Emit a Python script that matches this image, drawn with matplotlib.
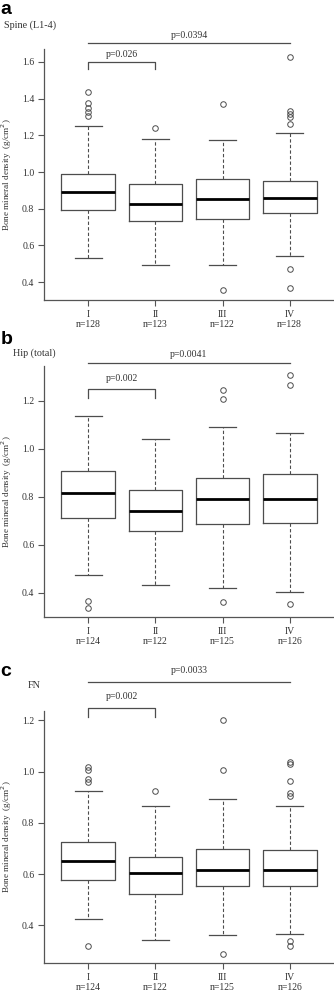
import matplotlib
matplotlib.use("Agg")
import matplotlib.pyplot as plt

plt.rcParams['font.family'] = ['Liberation Serif', 'DejaVu Serif']

groups = ['I', 'II', 'III', 'IV']

# panel a: spine (L1-4)
spine_n = [128, 123, 122, 128]
spine_med = [0.893, 0.828, 0.853, 0.857]
spine_q1 = [0.793, 0.735, 0.744, 0.777]
spine_q3 = [0.987, 0.933, 0.964, 0.951]
spine_lo = [0.531, 0.496, 0.494, 0.540]
spine_hi = [1.248, 1.179, 1.172, 1.210]
spine_out = [[1.437, 1.377, 1.346, 1.328, 1.305],
             [1.241],
             [1.373, 0.355],
             [1.624, 1.335, 1.317, 1.297, 1.263, 0.474, 0.366]]

# panel b: hip (total)
hip_n = [124, 122, 125, 126]
hip_med = [0.815, 0.738, 0.788, 0.788]
hip_q1 = [0.711, 0.656, 0.684, 0.691]
hip_q3 = [0.907, 0.829, 0.877, 0.896]
hip_lo = [0.472, 0.432, 0.418, 0.404]
hip_hi = [1.136, 1.041, 1.088, 1.064]
hip_out = [[0.365, 0.336],
           [],
           [1.243, 1.207, 0.360],
           [1.305, 1.265, 0.351]]

# panel c: femoral neck
fn_n = [124, 122, 125, 126]
fn_med = [0.652, 0.604, 0.615, 0.615]
fn_q1 = [0.576, 0.524, 0.554, 0.554]
fn_q3 = [0.725, 0.668, 0.699, 0.693]
fn_lo = [0.425, 0.343, 0.361, 0.367]
fn_hi = [0.923, 0.866, 0.894, 0.866]
fn_out = [[1.018, 1.007, 0.972, 0.959, 0.321],
          [0.923],
          [1.200, 1.007, 0.289],
          [1.037, 1.028, 0.962, 0.918, 0.903, 0.338, 0.319]]

p_pair = ['p=0.026', 'p=0.002', 'p=0.002']
p_all = ['p=0.0394', 'p=0.0041', 'p=0.0033']

gray = '#4d4d4d'

panels = [
    dict(letter='a', title='Spine (L1-4)', n=spine_n, med=spine_med, q1=spine_q1, q3=spine_q3,
         lo=spine_lo, hi=spine_hi, out=spine_out, ylim=(0.303, 1.67), ticks=[0.4, 0.6, 0.8, 1.0, 1.2, 1.4, 1.6],
         bottom=300, top=49, br=(1.60, 1.56, 1.642), ln=(1.70, 1.741), title_xy=(4, 25), letter_y=1),
    dict(letter='b', title='Hip (total)', n=hip_n, med=hip_med, q1=hip_q1, q3=hip_q3,
         lo=hip_lo, hi=hip_hi, out=hip_out, ylim=(0.298, 1.344), ticks=[0.4, 0.6, 0.8, 1.0, 1.2],
         bottom=617, top=366, br=(1.25, 1.21, 1.293), ln=(1.355, 1.39), title_xy=(13, 353), letter_y=331),
    dict(letter='c', title='FN', n=fn_n, med=fn_med, q1=fn_q1, q3=fn_q3,
         lo=fn_lo, hi=fn_hi, out=fn_out, ylim=(0.253, 1.236), ticks=[0.4, 0.6, 0.8, 1.0, 1.2],
         bottom=963, top=711, br=(1.249, 1.213, 1.294), ln=(1.35, 1.395), title_xy=(28, 686), letter_y=663),
]

W, H = 334, 992
fig = plt.figure(figsize=(W / 100, H / 100), dpi=100)

for k, p in enumerate(panels):
    ax = fig.add_axes([44 / W, 1 - p['bottom'] / H, 290 / W, (p['bottom'] - p['top']) / H])
    stats = []
    for i in range(4):
        stats.append(dict(med=p['med'][i], q1=p['q1'][i], q3=p['q3'][i],
                          whislo=p['lo'][i], whishi=p['hi'][i], fliers=p['out'][i]))
    ax.bxp(stats, positions=[1, 2, 3, 4], widths=0.8, capwidths=0.4, manage_ticks=False,
           boxprops=dict(color=gray, lw=0.9),
           whiskerprops=dict(color=gray, lw=0.8, linestyle=(0, (3, 2))),
           capprops=dict(color=gray, lw=0.9),
           medianprops=dict(color='black', lw=2.0, solid_capstyle='butt'),
           flierprops=dict(marker='o', markersize=4, markerfacecolor='none',
                           markeredgecolor=gray, markeredgewidth=0.7))
    ax.set_xlim(0.34, 4.66)
    ax.set_ylim(*p['ylim'])
    ax.set_yticks(p['ticks'])
    ax.set_yticklabels(['%.1f' % t for t in p['ticks']])
    ax.set_xticks([1, 2, 3, 4])
    ax.set_xticklabels(['%s\nn=%d' % (g, n) for g, n in zip(groups, p['n'])], linespacing=1.1)
    for s in ['top', 'right']:
        ax.spines[s].set_visible(False)
    for s in ['left', 'bottom']:
        ax.spines[s].set_color('#555555')
        ax.spines[s].set_linewidth(0.9)
    ax.tick_params(length=4, width=0.8, color='#555555', labelsize=7, labelcolor='#333333')
    ax.tick_params(axis='y', pad=3)
    ax.tick_params(axis='x', pad=3.5)
    ax.set_ylabel('Bone mineral density  (g/cm$^2$)', fontsize=6.6, color='#333333')
    ax.yaxis.set_label_coords(-0.104, 0.5)

    # significance annotations
    top, end, ty = p['br']
    ax.plot([1, 1, 2, 2], [end, top, top, end], color=gray, lw=0.9, clip_on=False)
    ax.text(1.5, ty, p_pair[k], ha='center', va='center', fontsize=7, color='#333333')
    ly, lty = p['ln']
    ax.plot([1, 4], [ly, ly], color=gray, lw=0.9, clip_on=False)
    ax.text(2.5, lty, p_all[k], ha='center', va='center', fontsize=7, color='#333333')

    fig.text(p['title_xy'][0] / W, 1 - p['title_xy'][1] / H, p['title'], fontsize=7.3,
             color='#333333', ha='left', va='center')
    fig.text(0.5 / W, 1 - p['letter_y'] / H, p['letter'], fontsize=14, fontweight='bold',
             family='Liberation Sans', ha='left', va='top')

fig.savefig('out.png', dpi=100)
